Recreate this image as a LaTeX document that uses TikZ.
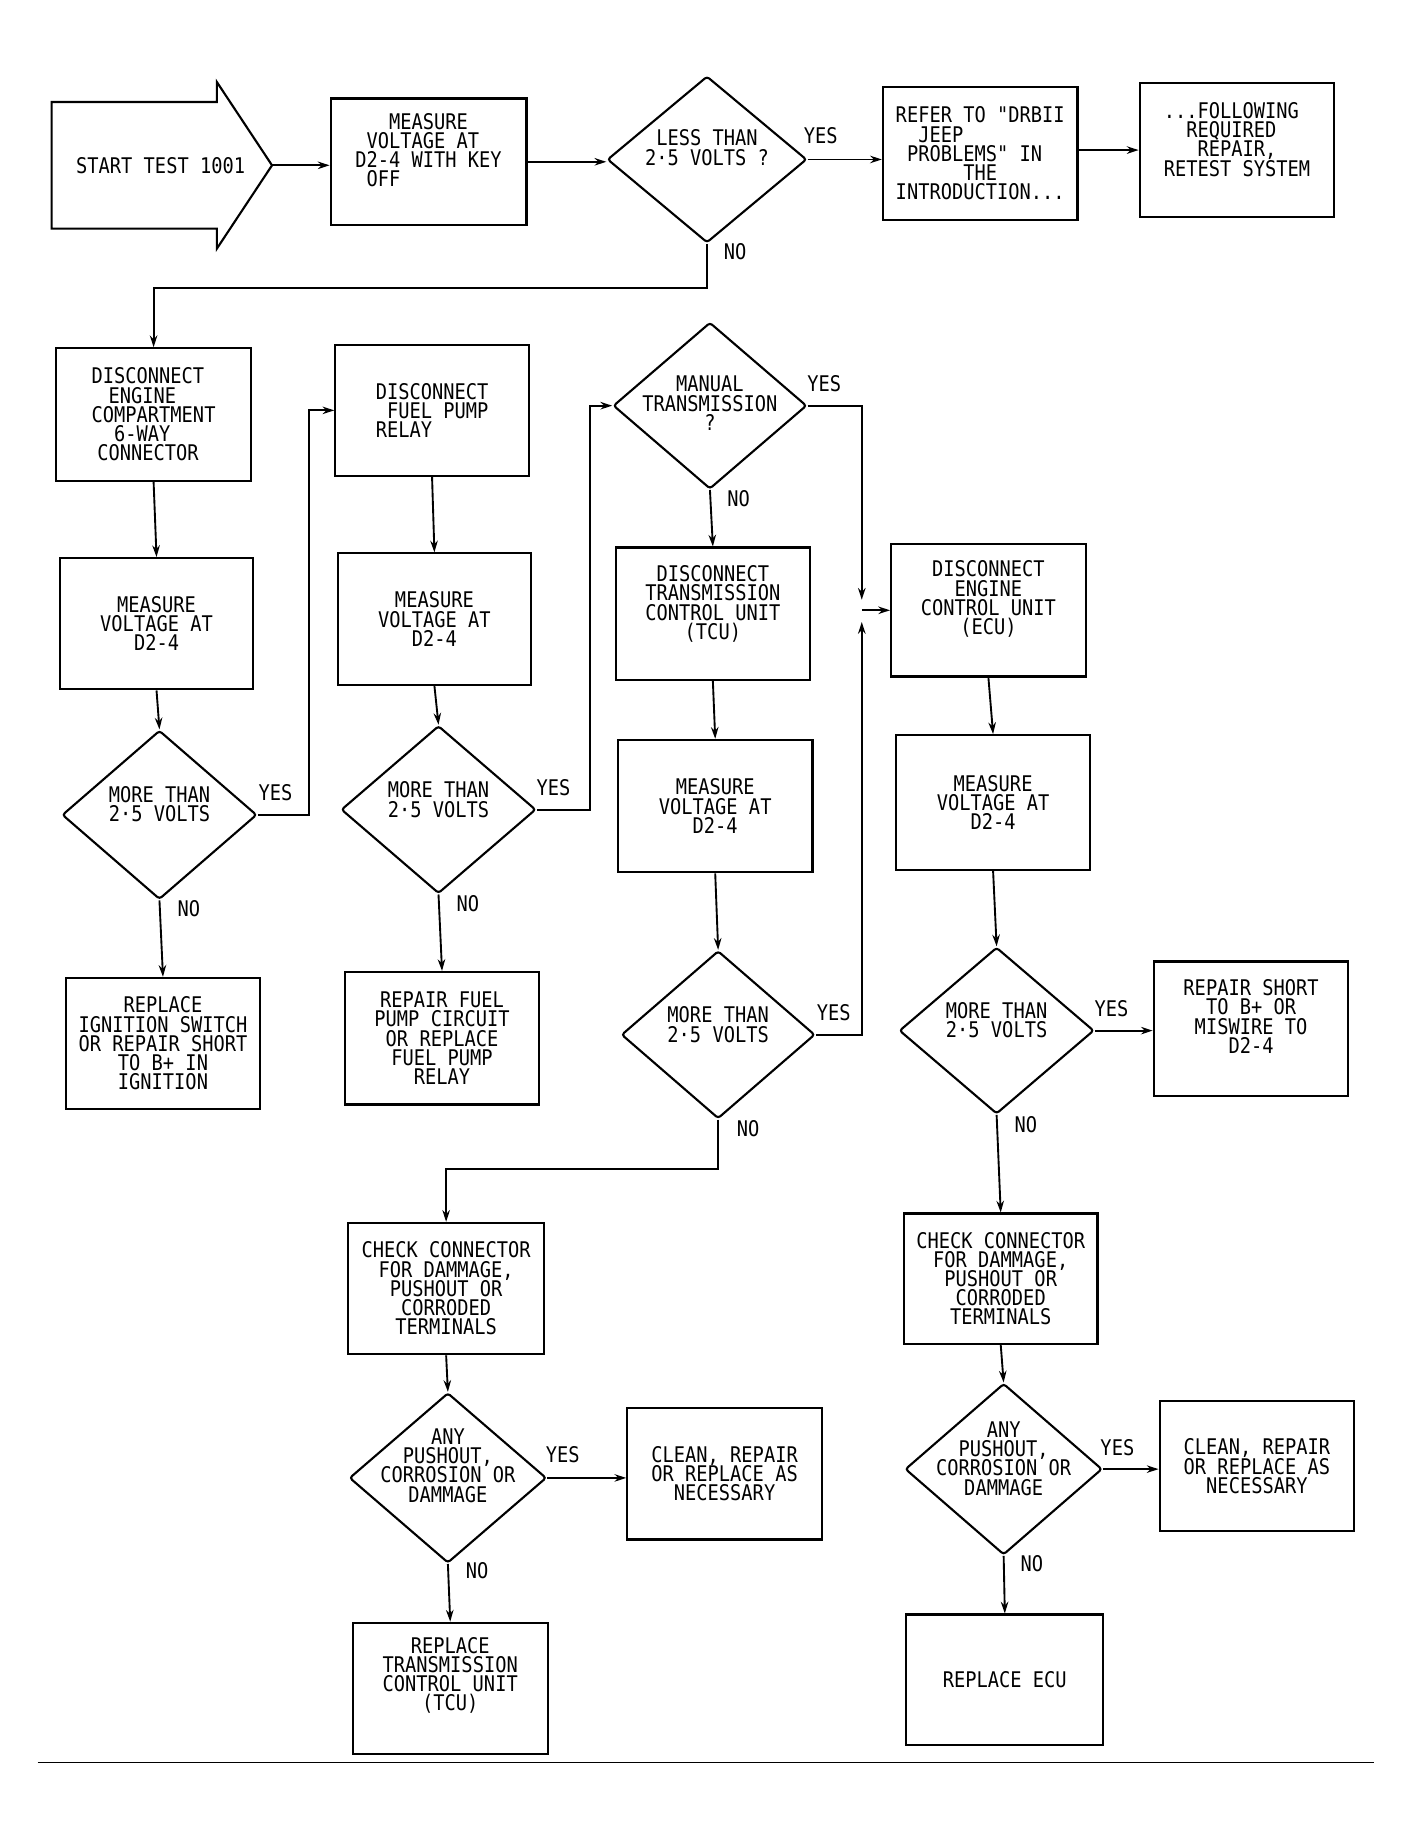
\documentclass[tikz,border=0pt]{standalone}
\usepackage{fontspec}
\newfontfamily\plotfont{DejaVu Sans Mono}[FakeStretch=0.867]
\usetikzlibrary{shapes.geometric,arrows.meta,calc}
\newlength\cw \setlength\cw{4.8pt}
\newcommand\ind[1]{\hspace*{#1\cw}}
\begin{document}
\begin{tikzpicture}[x=0.5pt,y=-0.5pt,
  font=\plotfont\fontsize{9.2pt}{8.2pt}\selectfont,
  box/.style={draw,rectangle,inner sep=0pt,align=center,line width=0.9pt},
  dia/.style={draw,diamond,inner sep=0pt,line width=0.9pt,rounded corners=1.2pt},
  txt/.style={inner sep=0pt,align=center},
  lbl/.style={inner sep=0pt},
  arr/.style={-{Stealth[length=5pt,width=3.2pt]},line width=0.8pt},
  sz/.style 2 args={minimum width=#1*0.5pt,minimum height=#2*0.5pt}]
\fill[white] (0,0) rectangle (1200,1562.5);
\useasboundingbox (0,0) rectangle (1200,1562.5);

% ---------- row 1
\draw[line width=0.9pt] (44,87) -- (185,87) -- (185,70) -- (232,141) -- (185,212) -- (185,195) -- (44,195) -- cycle;
\node[txt] (start) at (137,141) {START TEST 1001};
\coordinate (stt) at (232,141);

\node[box,sz={167}{108}] (m1) at (365.5,138) {};
\node[txt,align=left] (m1t) at (365.5,128) {\ind{3}MEASURE\\\ind{1}VOLTAGE AT\\D2-4 WITH KEY\\\ind{1}OFF};

\node[dia,sz={170}{142}] (d1) at (603,136) {};
\node[txt] (d1t) at (603,126) {LESS THAN\\2·5 VOLTS ?};

\node[box,sz={166}{114},align=left] (refer) at (836,131) {REFER TO "DRBII\\\ind{2}JEEP\\\ind{1}PROBLEMS" IN\\\ind{6}THE\\INTRODUCTION...};

\node[box,sz={166}{114}] (follow) at (1055,128) {};
\node[txt,align=left] (followt) at (1055,119) {...FOLLOWING\\\ind{2}REQUIRED\\\ind{3}REPAIR,\\RETEST SYSTEM};

% ---------- column 1
\node[box,sz={166}{113},align=left] (c1) at (131,353.5) {DISCONNECT\\\ind{1.5}ENGINE\\COMPARTMENT\\\ind{2}6-WAY\\\ind{0.5}CONNECTOR};
\node[box,sz={165}{112}] (m2) at (133.5,532) {MEASURE\\VOLTAGE AT\\D2-4};
\node[dia,sz={166}{144}] (d2) at (136,695) {};
\node[txt] (d2t) at (136,686) {MORE THAN\\2·5 VOLTS};
\node[box,sz={166}{112}] (r1) at (139,890) {REPLACE\\IGNITION SWITCH\\OR REPAIR SHORT\\TO B+ IN\\IGNITION};

% ---------- column 2
\node[box,sz={165}{112},align=left] (c2) at (368.5,350) {DISCONNECT\\\ind{1}FUEL PUMP\\RELAY};
\node[box,sz={165}{112}] (m3) at (370.5,528) {MEASURE\\VOLTAGE AT\\D2-4};
\node[dia,sz={166}{143}] (d3) at (374,690.5) {};
\node[txt] (d3t) at (374,682) {MORE THAN\\2·5 VOLTS};
\node[box,sz={166}{113}] (r2) at (377,885.5) {REPAIR FUEL\\PUMP CIRCUIT\\OR REPLACE\\FUEL PUMP\\RELAY};

% ---------- column 3
\node[dia,sz={165}{142}] (d4) at (605.5,346) {};
\node[txt] (d4t) at (605.5,344) {MANUAL\\TRANSMISSION\\?};
\node[box,sz={166}{113}] (tcu) at (608,523.5) {};
\node[txt] (tcut) at (608,515) {DISCONNECT\\TRANSMISSION\\CONTROL UNIT\\(TCU)};
\node[box,sz={166}{113}] (m4) at (610,687.5) {MEASURE\\VOLTAGE AT\\D2-4};
\node[dia,sz={165}{143}] (d5) at (612.5,882.5) {};
\node[txt] (d5t) at (612.5,874) {MORE THAN\\2·5 VOLTS};

% ---------- column 4
\node[box,sz={166}{113}] (ecu) at (843,520.5) {};
\node[txt] (ecut) at (843,511) {DISCONNECT\\ENGINE\\CONTROL UNIT\\(ECU)};
\node[box,sz={166}{115}] (m5) at (847,684.5) {MEASURE\\VOLTAGE AT\\D2-4};
\node[dia,sz={166}{142}] (d6) at (850,879) {};
\node[txt] (d6t) at (850,870) {MORE THAN\\2·5 VOLTS};
\node[box,sz={166}{115}] (rs) at (1067,877.5) {};
\node[txt] (rst) at (1067,867) {REPAIR SHORT\\TO B+ OR\\MISWIRE TO\\D2-4};
\node[box,sz={165}{111}] (cc2) at (853.5,1090.5) {CHECK CONNECTOR\\FOR DAMMAGE,\\PUSHOUT OR\\CORRODED\\TERMINALS};
\node[dia,sz={168}{146}] (d7) at (856,1253) {};
\node[txt] (d7t) at (856,1244) {ANY\\PUSHOUT,\\CORROSION OR\\DAMMAGE};
\node[box,sz={166}{111}] (cl2) at (1072,1250.5) {CLEAN, REPAIR\\OR REPLACE AS\\NECESSARY};
\node[box,sz={168}{111}] (recu) at (857,1432.5) {REPLACE ECU};

% ---------- bottom left
\node[box,sz={167}{112}] (cc1) at (380.5,1099) {CHECK CONNECTOR\\FOR DAMMAGE,\\PUSHOUT OR\\CORRODED\\TERMINALS};
\node[dia,sz={168}{145}] (d8) at (382,1260.5) {};
\node[txt] (d8t) at (382,1250) {ANY\\PUSHOUT,\\CORROSION OR\\DAMMAGE};
\node[box,sz={166}{112}] (cl1) at (618,1257) {CLEAN, REPAIR\\OR REPLACE AS\\NECESSARY};
\node[box,sz={166}{112}] (rtcu) at (384,1440) {};
\node[txt] (rtcut) at (384,1429) {REPLACE\\TRANSMISSION\\CONTROL UNIT\\(TCU)};

% ---------- YES / NO labels
\node[lbl] (y1) at (700,116) {YES};  \node[lbl] (n1) at (627,215) {NO};
\node[lbl] (y2) at (235,676) {YES};  \node[lbl] (n2) at (161,775) {NO};
\node[lbl] (y3) at (472,672) {YES};  \node[lbl] (n3) at (399,771) {NO};
\node[lbl] (y4) at (703,327) {YES};  \node[lbl] (n4) at (630,425) {NO};
\node[lbl] (y5) at (711,864) {YES};  \node[lbl] (n5) at (638,963) {NO};
\node[lbl] (y6) at (948,860) {YES};  \node[lbl] (n6) at (875,959) {NO};
\node[lbl] (y7) at (953,1235) {YES}; \node[lbl] (n7) at (880,1334) {NO};
\node[lbl] (y8) at (480,1241) {YES}; \node[lbl] (n8) at (407,1340) {NO};

% ---------- connectors
\draw[arr] (stt) -- (m1.west |- stt);
\draw[arr] (m1.east) -- (m1.east -| d1.west);
\draw[arr] (d1.east) -- (d1.east -| refer.west);
\draw[arr] (refer.east |- follow.west) -- (follow.west);
\draw[arr] (d1.south) -- ++(0,38) -| (c1.north);

\draw[arr] (c1.south) -- (m2.north);
\draw[arr] (m2.south) -- (d2.north);
\draw[arr] (d2.south) -- (r1.north);
\draw[arr] (d2.east) -- ++(44,0) |- (c2.west);

\draw[arr] (c2.south) -- (m3.north);
\draw[arr] (m3.south) -- (d3.north);
\draw[arr] (d3.south) -- (r2.north);
\draw[arr] (d3.east) -- ++(45,0) |- (d4.west);

\coordinate (jn) at (735,520.5);
\draw[arr] (d4.south) -- (tcu.north);
\draw[arr] (tcu.south) -- (m4.north);
\draw[arr] (m4.south) -- (d5.north);
\draw[arr] (d4.east) -| ($(jn)+(0,-9)$);
\draw[arr] (d5.east) -| ($(jn)+(0,10)$);
\draw[arr] (jn) -- (ecu.west);
\draw[arr] (d5.south) -- ++(0,42) -| (cc1.north);

\draw[arr] (ecu.south) -- (m5.north);
\draw[arr] (m5.south) -- (d6.north);
\draw[arr] (d6.east) -- (d6.east -| rs.west);
\draw[arr] (d6.south) -- (cc2.north);
\draw[arr] (cc2.south) -- (d7.north);
\draw[arr] (d7.east) -- (d7.east -| cl2.west);
\draw[arr] (d7.south) -- (recu.north);

\draw[arr] (cc1.south) -- (d8.north);
\draw[arr] (d8.east) -- (d8.east -| cl1.west);
\draw[arr] (d8.south) -- (rtcu.north);

% ---------- bottom rule
\draw[line width=0.6pt] (32,1503) -- (1172,1503);
\end{tikzpicture}
\end{document}
